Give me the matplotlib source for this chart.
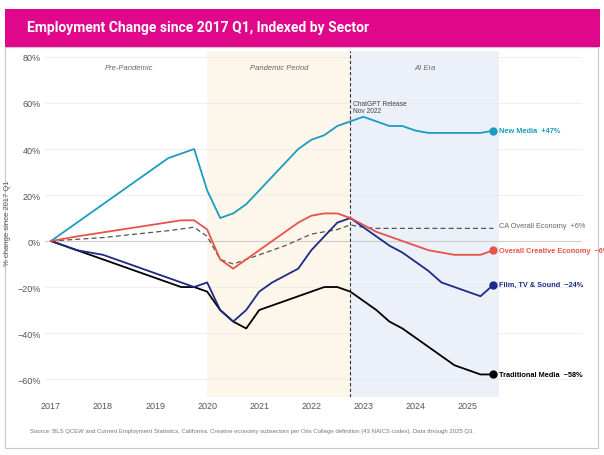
import matplotlib.pyplot as plt
from matplotlib.patches import Rectangle

# Data: year positions (quarters as fractions) and % change since 2017 Q1
new_media_x = [2017, 2019.25, 2019.75, 2020, 2020.25, 2020.5, 2020.75, 2021.75, 2022, 2022.25,
               2022.5, 2022.75, 2023, 2023.25, 2023.5, 2023.75, 2024, 2024.25, 2025.25, 2025.5]
new_media_y = [0, 36, 40, 22, 10, 12, 16, 40, 44, 46, 50, 52, 54, 52, 50, 50, 48, 47, 47, 48]

trad_x = [2017, 2019.5, 2019.75, 2020, 2020.25, 2020.5, 2020.75, 2021, 2022.25, 2022.5, 2022.75,
          2023, 2023.25, 2023.5, 2023.75, 2024, 2024.25, 2024.5, 2024.75, 2025, 2025.25, 2025.5]
trad_y = [0, -20, -20, -22, -30, -35, -38, -30, -20, -20, -22,
          -26, -30, -35, -38, -42, -46, -50, -54, -56, -58, -58]

film_x = [2017, 2017.5, 2018, 2019.75, 2020, 2020.25, 2020.5, 2020.75, 2021, 2021.25, 2021.5, 2021.75,
          2022, 2022.25, 2022.5, 2022.75, 2023, 2023.25, 2023.5, 2023.75, 2024, 2024.25, 2024.5,
          2024.75, 2025, 2025.25, 2025.5]
film_y = [0, -4, -6, -20, -18, -30, -35, -30, -22, -18, -15, -12,
          -4, 2, 8, 10, 6, 2, -2, -5, -9, -13, -18,
          -20, -22, -24, -19]

creative_x = [2017, 2017.5, 2019.5, 2019.75, 2020, 2020.25, 2020.5, 2021.5, 2021.75, 2022, 2022.25,
              2022.5, 2022.75, 2023, 2023.25, 2023.5, 2023.75, 2024, 2024.25, 2024.5, 2024.75,
              2025.25, 2025.5]
creative_y = [0, 2, 9, 9, 5, -8, -12, 4, 8, 11, 12,
              12, 10, 7, 4, 2, 0, -2, -4, -5, -6,
              -6, -4]

ca_x = [2017, 2018, 2019.25, 2019.75, 2020, 2020.25, 2020.5, 2021, 2021.5, 2022, 2022.25,
        2022.5, 2022.75, 2023, 2023.25, 2025.5]
ca_y = [0, 1.5, 4.5, 6, 2, -8, -10, -6, -2, 3, 4, 5, 7, 6, 5.5, 5.5]

years = [2017, 2018, 2019, 2020, 2021, 2022, 2023, 2024, 2025]
y_ticks = [-60, -40, -20, 0, 20, 40, 60, 80]

periods = [("Pre-Pandemic", 2017, 2020), ("Pandemic Period", 2020, 2022.75), ("AI Era", 2022.75, 2025.6)]
chatgpt_x = 2022.75

end_labels = [
    ("New Media  +47%", "#1b9cc0", "bold"),
    ("Traditional Media  \u221258%", "#000000", "bold"),
    ("Film, TV & Sound  \u221224%", "#1c2a8a", "bold"),
    ("Overall Creative Economy  \u22126%", "#e8524a", "bold"),
    ("CA Overall Economy  +6%", "#666666", "normal"),
]

plt.rcParams['font.family'] = ['Liberation Sans', 'DejaVu Sans']

fig = plt.figure(figsize=(6.04, 4.56), dpi=100)
W, H = 604, 456

# panel border and pink header
fig.patches.append(Rectangle((5 / W, 1 - 449 / H), 593 / W, 401 / H, transform=fig.transFigure,
                             facecolor='white', edgecolor='#c8c8c8', linewidth=0.8, zorder=-2))
fig.patches.append(Rectangle((5 / W, 1 - 48 / H), 595 / W, 38 / H, transform=fig.transFigure,
                             facecolor='#e0078b', edgecolor='none', zorder=-1))
fig.text(27 / W, 1 - 28 / H, "Employment Change since 2017 Q1, Indexed by Sector",
         color='white', fontsize=10, fontweight='bold', family='Roboto', va='center', ha='left')

ax = fig.add_axes([45 / W, 1 - 398 / H, (582 - 45) / W, (398 - 52) / H], zorder=2)
ax.set_facecolor('none')
ax.set_xlim(2016.885, 2027.2)
ax.set_ylim(-67.8, 82.6)

# period shading
ax.axvspan(2020, 2022.75, color='#fdf6ea', zorder=0, lw=0)
ax.axvspan(2022.75, 2025.6, color='#ebf0f9', zorder=0, lw=0)
for name, a, b in periods:
    ax.text((a + b) / 2, 75.5, name, ha='center', va='center', fontsize=5.5,
            style='italic', color='#666666')

for t in y_ticks:
    ax.axhline(t, color='#ececec', lw=0.6, zorder=1)
ax.axhline(0, color='#cccccc', lw=0.8, zorder=1)

ax.axvline(chatgpt_x, color='#333333', lw=0.8, ls=(0, (3, 2)), zorder=2)
ax.text(chatgpt_x + 0.05, 61.5, "ChatGPT Release\nNov 2022", fontsize=4.8, color='#444444',
        va='top', ha='left', linespacing=1.1)

series = [
    (new_media_x, new_media_y),
    (trad_x, trad_y),
    (film_x, film_y),
    (creative_x, creative_y),
]
for (xs, ys), (lab, col, w) in zip(series, end_labels[:4]):
    ax.plot(xs, ys, color=col, lw=1.3, zorder=4)
    ax.plot(xs[-1], ys[-1], 'o', color=col, ms=5, zorder=5)
    ax.annotate(lab, (xs[-1], ys[-1]), xytext=(4, 0), textcoords='offset points',
                color=col, fontsize=5.3, fontweight=w, va='center', ha='left',
                annotation_clip=False)

ax.plot(ca_x, ca_y, color='#555555', lw=0.9, ls=(0, (4, 2.5)), zorder=3)
ax.annotate(end_labels[4][0], (ca_x[-1], ca_y[-1]), xytext=(4, 2), textcoords='offset points',
            color='#666666', fontsize=5.3, va='center', ha='left')

ax.set_xticks(years)
ax.set_xticklabels([str(y) for y in years])
ax.set_yticks(y_ticks)
ax.set_yticklabels([f"{t}%" if t >= 0 else f"\u2212{-t}%" for t in y_ticks])
ax.tick_params(length=0, labelsize=6.5, colors='#555555', pad=3)
for s in ax.spines.values():
    s.set_visible(False)

fig.text(8 / W, 1 - 223 / H, "% change since 2017 Q1", rotation=90, fontsize=5.5,
         color='#555555', va='center', ha='center')

fig.text(30 / W, 1 - 432 / H,
         "Source: BLS QCEW and Current Employment Statistics, California. Creative economy subsectors "
         "per Otis College definition (43 NAICS codes). Data through 2025 Q3.",
         fontsize=4.3, color='#777777', va='center', ha='left')

fig.savefig("out.png", dpi=100)
